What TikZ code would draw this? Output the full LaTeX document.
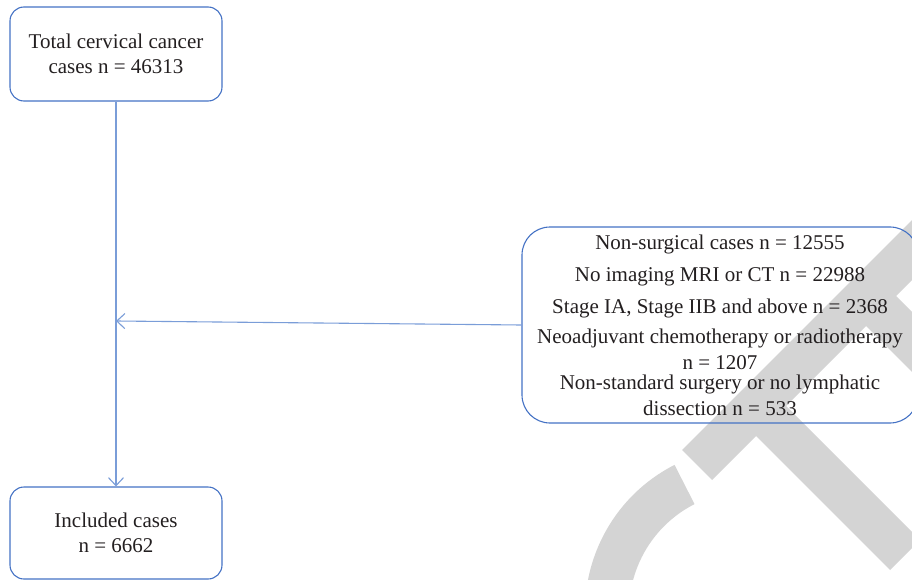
\documentclass[tikz,border=0pt]{standalone}
\usepackage{fontspec}
\setmainfont{Liberation Serif}
\usetikzlibrary{arrows.meta}

\definecolor{boxblue}{RGB}{68,114,196}
\definecolor{arrowblue}{RGB}{122,157,216}
\definecolor{wmark}{RGB}{212,212,212}
\definecolor{ink}{RGB}{35,31,32}

\begin{document}
\begin{tikzpicture}[x=1pt, y=1pt,
    stage/.style={draw=boxblue, line width=1.1pt, rounded corners=14pt, text=ink,
        align=center, inner sep=0pt, minimum width=212pt, minimum height=94pt,
        font=\fontsize{21}{25}\selectfont},
    flow/.style={draw=arrowblue, line width=1.1pt, -{Straight Barb[length=8pt,width=15pt]}}]
    \useasboundingbox (0,0) rectangle (912,-580);
    \clip (0,0) rectangle (912,-580);

    % grey mark behind the chart
    \fill[wmark] (682,-450) -- (712,-480) -- (1112,-80) -- (1082,-50) -- cycle;
    \fill[wmark] (745,-425) -- (775,-395) -- (920,-540) -- (890,-570) -- cycle;
    \fill[wmark] (860,-320) -- (890,-290) -- (1100,-500) -- (1070,-530) -- cycle;
    \fill[wmark] (749,-611) ++(117:164) arc[start angle=117, end angle=200, radius=164]
        -- ++(20:44) arc[start angle=200, end angle=117, radius=120] -- cycle;

    \node[stage] (1) at (116,-54) {Total cervical cancer\\cases n = 46313};
    \node[stage, minimum height=92pt] (3) at (116,-533) {Included cases\\n = 6662};
    \node[stage, rounded corners=28pt, minimum width=396pt, minimum height=196pt] (2) at (720,-325)
        {Non-surgical cases n = 12555\\[7pt]
         No imaging MRI or CT n = 22988\\[7pt]
         Stage IA, Stage IIB and above n = 2368\\[5pt]
         Neoadjuvant chemotherapy or radiotherapy\\[1pt]
         n = 1207\\[-5pt]
         Non-standard surgery or no lymphatic\\[1pt]
         dissection n = 533};
    \coordinate (j) at (116,-321);

    \draw[flow] (1) -- (3);
    \draw[flow] (2.west) -- (j);
\end{tikzpicture}
\end{document}
